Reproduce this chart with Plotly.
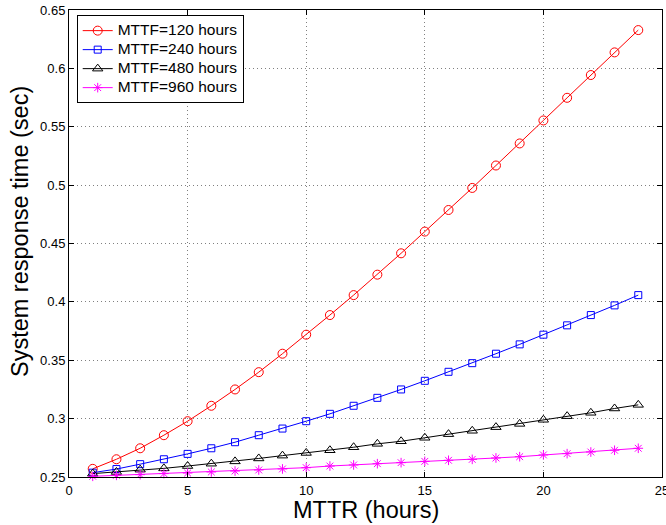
import plotly.graph_objects as go

mttr = list(range(1, 25))
mttf_120 = [0.2570, 0.2652, 0.2746, 0.2858, 0.2978, 0.3110, 0.3250, 0.3398, 0.3556, 0.3719,
            0.3887, 0.4058, 0.4233, 0.4416, 0.4602, 0.4787, 0.4976, 0.5168, 0.5357, 0.5554,
            0.5748, 0.5943, 0.6137, 0.6328]
mttf_240 = [0.2537, 0.2568, 0.2610, 0.2652, 0.2698, 0.2746, 0.2798, 0.2858, 0.2915, 0.2978,
            0.3041, 0.3110, 0.3178, 0.3250, 0.3324, 0.3401, 0.3475, 0.3556, 0.3636, 0.3719,
            0.3799, 0.3887, 0.3970, 0.4058]
mttf_480 = [0.2529, 0.2543, 0.2563, 0.2574, 0.2594, 0.2614, 0.2634, 0.2659, 0.2683, 0.2706,
            0.2729, 0.2755, 0.2784, 0.2806, 0.2836, 0.2867, 0.2896, 0.2927, 0.2955, 0.2990,
            0.3021, 0.3050, 0.3087, 0.3118]
mttf_960 = [0.2506, 0.2514, 0.2520, 0.2529, 0.2534, 0.2543, 0.2551, 0.2560, 0.2569, 0.2580,
            0.2594, 0.2603, 0.2614, 0.2623, 0.2634, 0.2643, 0.2651, 0.2663, 0.2674, 0.2689,
            0.2700, 0.2714, 0.2729, 0.2746]

series_names = ["MTTF=120 hours", "MTTF=240 hours", "MTTF=480 hours", "MTTF=960 hours"]
x_ticks = [0, 5, 10, 15, 20, 25]
y_ticks = [0.25, 0.3, 0.35, 0.4, 0.45, 0.5, 0.55, 0.6, 0.65]
y_tick_labels = ["0.25", "0.3", "0.35", "0.4", "0.45", "0.5", "0.55", "0.6", "0.65"]
x_title = "MTTR (hours)"
y_title = "System response time (sec)"

styles = [
    ("#ff0000", "circle-open", 9),
    ("#0000ff", "square-open", 7),
    ("#000000", "triangle-up-open", 9),
    ("#ff00ff", "asterisk-open", 8),
]
values = [mttf_120, mttf_240, mttf_480, mttf_960]

fig = go.Figure()
for name, vals, (color, sym, size) in zip(series_names, values, styles):
    fig.add_trace(go.Scatter(
        x=mttr, y=vals,
        name='<span style="font-size:15.5px">' + name + '</span>',
        mode="lines+markers",
        line=dict(color=color, width=1),
        marker=dict(symbol=sym, size=size, color=color, line=dict(color=color, width=1)),
        cliponaxis=False,
    ))

font_family = "Liberation Sans, Arial, sans-serif"
axis_common = dict(
    showline=True, linecolor="black", linewidth=1, mirror="ticks",
    ticks="inside", ticklen=5, tickcolor="black", tickwidth=1,
    showgrid=True, gridcolor="#808080", gridwidth=1, griddash="1px,3px",
    zeroline=False, tickfont=dict(size=13, color="black", family=font_family),
    automargin=False, ticklabeloverflow="allow",
)

fig.update_layout(
    width=666, height=525,
    margin=dict(l=69, r=4, t=10, b=48),
    paper_bgcolor="white", plot_bgcolor="white",
    font=dict(family=font_family, color="black"),
    xaxis=dict(range=[0, 25], tickvals=x_ticks, ticklabelstandoff=1, **axis_common),
    yaxis=dict(range=[0.25, 0.65], tickvals=y_ticks, ticktext=y_tick_labels, **axis_common),
    legend=dict(x=0.013, y=0.989, xanchor="left", yanchor="top",
                bgcolor="white", bordercolor="black", borderwidth=1,
                font=dict(size=11.8, color="black"), tracegroupgap=0,
                itemwidth=30),
    showlegend=True,
    annotations=[
        dict(text=x_title, xref="paper", yref="paper", x=0.5, y=0,
             xanchor="center", yanchor="middle", yshift=-33, showarrow=False,
             font=dict(size=23.5, color="black", family=font_family)),
        dict(text=y_title, xref="paper", yref="paper", x=0, y=0.5246,
             xanchor="center", yanchor="middle", xshift=-49, textangle=-90,
             showarrow=False, font=dict(size=23.5, color="black", family=font_family)),
    ],
)

fig.write_html("out.html", config={"displayModeBar": False},
               post_script="document.body.style.margin='0';")
